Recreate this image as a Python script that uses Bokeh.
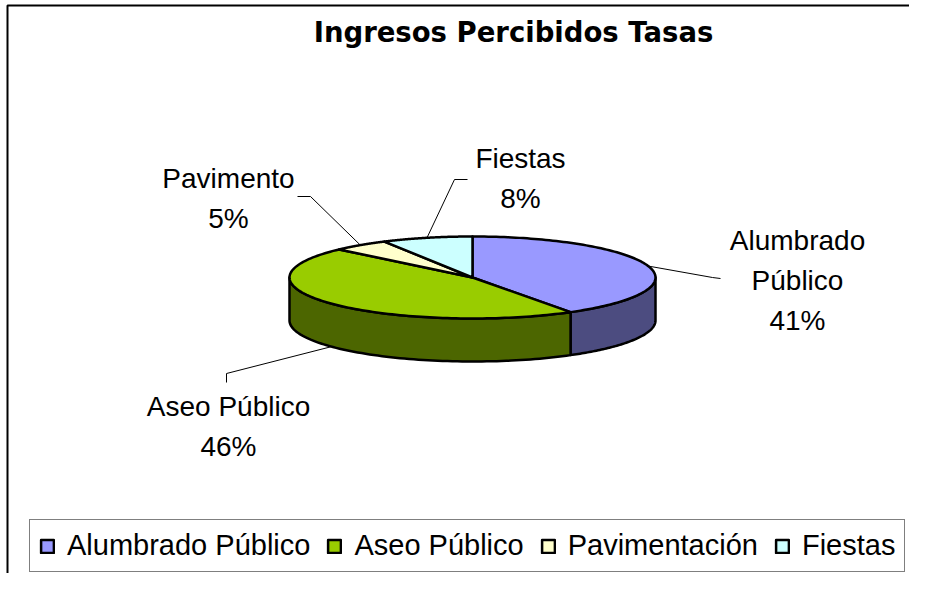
import numpy as np
from bokeh.plotting import figure
from bokeh.models import Range1d, ColumnDataSource, Legend, LegendItem
from bokeh.embed import file_html
from bokeh.resources import INLINE
from bokeh.core.properties import value

# ---- data ----
title = "Ingresos Percibidos Tasas"
categories = ["Alumbrado Público", "Aseo Público", "Pavimentación", "Fiestas"]
slice_labels = ["Alumbrado\nPúblico", "Aseo Público", "Pavimento", "Fiestas"]
percent = [41, 46, 5, 8]
top_colors = ["#9999FF", "#99CC00", "#FFFFCC", "#CCFFFF"]
side_colors = ["#4C4C80", "#4C6600", "#808066", "#668080"]

# ---- layout ----
W, H = 909, 573
cx, cy, rx, ry, depth = 472, 277, 183, 41, 43
label_pos = [(797, 280), (228, 426), (228, 198), (520, 178)]
# leader line elbows/ends (layout), start is computed from slice angle
leader_tail = [[(712, 277), (720, 278)], [(226, 373), (226, 382)],
               [(310, 196), (297, 196)], [(454, 179), (467, 179)]]
leader_on_bottom = [False, True, False, False]

p = figure(width=W, height=H, output_backend="svg", toolbar_location=None,
           x_range=Range1d(0, W), y_range=Range1d(H, 0),
           min_border=0, x_axis_location=None, y_axis_location=None)
p.grid.visible = False
p.outline_line_color = None
p.background_fill_color = "white"
p.border_fill_color = "white"

FONT = "Liberation Sans"

fr = np.array(percent, dtype=float) / sum(percent)
cum = np.concatenate([[0.0], np.cumsum(fr)]) * 360.0


def pt(theta, dy=0.0):
    t = np.radians(theta)
    return cx + rx * np.sin(t), cy - ry * np.cos(t) + dy


# sides (front half: theta 90..270)
sx, sy, sc = [], [], []
for i in range(len(percent)):
    lo, hi = max(cum[i], 90.0), min(cum[i + 1], 270.0)
    if lo < hi:
        ts = np.linspace(lo, hi, 80)
        tx, ty = pt(ts)
        bx, by = pt(ts[::-1], depth)
        sx.append(list(tx) + list(bx))
        sy.append(list(ty) + list(by))
        sc.append(side_colors[i])
p.patches(sx, sy, fill_color=sc, line_color="black", line_width=2.5, line_join="round")

# top faces
tops = []
for i in range(len(percent)):
    ts = np.linspace(cum[i], cum[i + 1], 120)
    ax, ay = pt(ts)
    xs = [cx] + list(ax) + [cx]
    ys = [cy] + list(ay) + [cy]
    r = p.patch(xs, ys, fill_color=top_colors[i], line_color="black",
                line_width=2.5, line_join="round")
    tops.append(r)

# leader lines
lx, ly = [], []
for i in range(len(percent)):
    mid = (cum[i] + cum[i + 1]) / 2
    x0, y0 = pt(mid, depth if leader_on_bottom[i] else 0.0)
    xs = [float(x0)] + [q[0] for q in leader_tail[i]]
    ys = [float(y0)] + [q[1] for q in leader_tail[i]]
    lx.append(xs)
    ly.append(ys)
p.multi_line(lx, ly, line_color="black", line_width=1)

# labels
lab_src = ColumnDataSource(dict(
    x=[q[0] for q in label_pos], y=[q[1] for q in label_pos],
    t=[f"{n}\n{v}%" for n, v in zip(slice_labels, percent)]))
p.text("x", "y", text="t", source=lab_src, text_font=value(FONT),
       text_font_size="28px", text_align="center", text_baseline="middle",
       text_line_height=1.3, text_color="black")

# title
p.text([513], [31], text=[title], text_font=value("DejaVu Sans"),
       text_font_size="27.5px", text_font_style="bold", text_align="center",
       text_baseline="middle", text_color="black")

# chart frame (left and top)
p.line([7, 7, W], [H, 5, 5], line_color="black", line_width=2)

legend = Legend(items=[LegendItem(label=categories[i], renderers=[tops[i]])
                       for i in range(len(categories))],
                orientation="horizontal", location=(29, 1),
                glyph_width=16, glyph_height=16, label_standoff=12,
                spacing=16, padding=9, margin=0,
                label_text_font=FONT, label_text_font_size="29px",
                label_text_color="black",
                border_line_color="black", border_line_width=1,
                background_fill_color="white", background_fill_alpha=1)
p.add_layout(legend)

open("out.html", "w").write(file_html(p, INLINE))
